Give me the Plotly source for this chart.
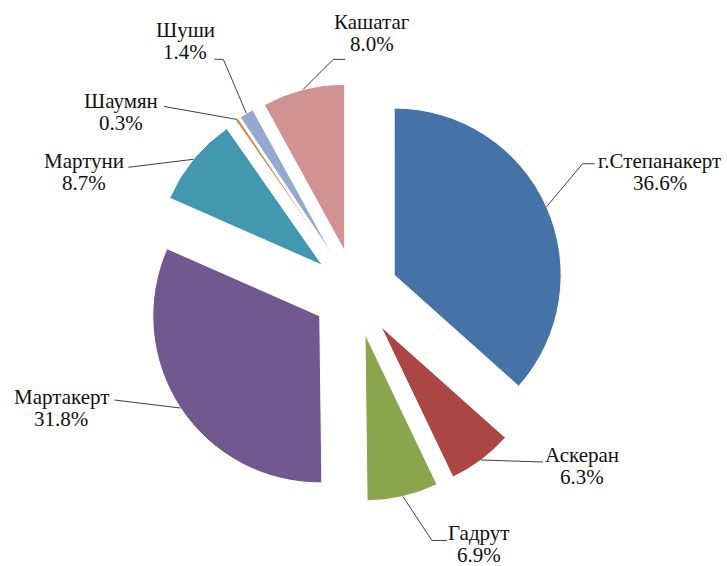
import math
import plotly.graph_objects as go

# ---- data ----
labels = ["г.Степанакерт", "Аскеран", "Гадрут", "Мартакерт", "Мартуни", "Шаумян", "Шуши", "Кашатаг"]
values = [36.6, 6.3, 6.9, 31.8, 8.7, 0.3, 1.4, 8.0]
pct_text = ["36.6%", "6.3%", "6.9%", "31.8%", "8.7%", "0.3%", "1.4%", "8.0%"]

# ---- style ----
colors = ["#4572A7", "#AA4643", "#89A54E", "#71588F", "#4198AF", "#DB843D", "#93A9CF", "#D19392"]
W, H = 727, 566
CX, CY = 355.3, 292.4      # pie centre (px)
R = 167.0                  # pie radius (px)
PULL = 0.255               # explosion as fraction of radius
FONT = dict(family="Liberation Serif", size=21, color="#111111")
LINE_GAP = 22              # px between the two label lines
LINE_COLOR = "#404040"

# leader-line bends (px offsets from slice arc midpoint) and text centre offsets
leader_pts = [
    [(36, -43), (48, -43)],
    [(62, 2)],
    [(29, 44), (44, 44)],
    [(-66, -8)],
    [(-65, 8)],
    [(-73, -13)],
    [(-23, -54), (-32, -54)],
    [(30, -30), (42, -30)],
]
text_off = [(113, -35), (101, 6), (76, 48), (-119, 0), (-109, 13), (-116, -7), (-61, -72), (69, -56)]

half = R * (1 + PULL)
dom_x = [(CX - half) / W, (CX + half) / W]
dom_y = [1 - (CY + half) / H, 1 - (CY - half) / H]


def px2paper(x, y):
    return x / W, 1 - y / H


fig = go.Figure(go.Pie(
    labels=labels,
    values=values,
    sort=False,
    direction="clockwise",
    rotation=0,
    pull=[PULL] * len(values),
    marker=dict(colors=colors, line=dict(color="white", width=1)),
    textinfo="none",
    hoverinfo="label+percent",
    showlegend=False,
    domain=dict(x=dom_x, y=dom_y),
))

total = sum(values)
cum = 0.0
shapes, annotations = [], []
for i, v in enumerate(values):
    theta = 2 * math.pi * (cum + v / 2) / total
    cum += v
    dx, dy = math.sin(theta), -math.cos(theta)
    mx = CX + (R * PULL + R) * dx
    my = CY + (R * PULL + R) * dy
    pts = [(mx, my)] + [(mx + ox, my + oy) for ox, oy in leader_pts[i]]
    path = ""
    for j, (px, py) in enumerate(pts):
        X, Y = px2paper(px, py)
        path += ("M" if j == 0 else " L") + f" {X:.5f},{Y:.5f}"
    shapes.append(dict(type="path", path=path, xref="paper", yref="paper",
                       line=dict(color=LINE_COLOR, width=1)))
    cx_t, cy_t = mx + text_off[i][0], my + text_off[i][1]
    for k, txt in enumerate([labels[i], pct_text[i]]):
        tx, ty = px2paper(cx_t, cy_t + (k - 0.5) * LINE_GAP)
        annotations.append(dict(x=tx, y=ty, xref="paper", yref="paper",
                                text=txt, showarrow=False,
                                xanchor="center", yanchor="middle",
                                font=FONT))

fig.update_layout(
    width=W, height=H,
    margin=dict(l=0, r=0, t=0, b=0),
    paper_bgcolor="white", plot_bgcolor="white",
    shapes=shapes, annotations=annotations,
)

fig.write_html("out.html", config={"displayModeBar": False},
               post_script="document.body.style.margin='0';document.body.style.padding='0';")
